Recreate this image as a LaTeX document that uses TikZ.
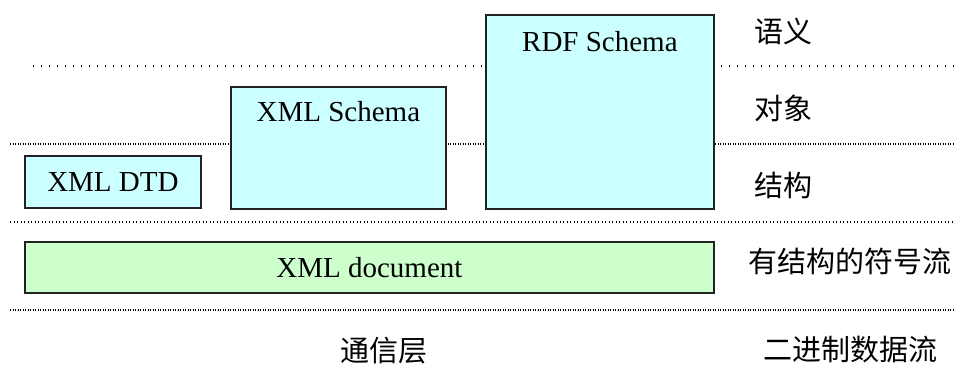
\documentclass[tikz,border=0pt]{standalone}
\usepackage{fontspec}
\setmainfont{Liberation Serif}
\newfontfamily\cjk{Noto Sans CJK SC}
\usetikzlibrary{positioning,calc}
\definecolor{schemafill}{HTML}{CCFFFF}
\definecolor{docfill}{HTML}{CCFFCC}
\definecolor{boxline}{HTML}{222222}

\begin{document}
\begin{tikzpicture}[x=1pt,y=-1pt,
  layerbox/.style={draw=boxline, line width=1.8pt, inner sep=0pt, anchor=north west, font=\fontsize{29}{31}\selectfont},
  xmlbox/.style={layerbox, fill=schemafill},
  docbox/.style={layerbox, fill=docfill},
  boxtext/.style={font=\fontsize{29}{31}\selectfont},
  layertext/.style={font=\cjk\fontsize{29}{31}\selectfont},
  sep/.style={line width=1.1pt, black}]

\useasboundingbox (0,0) rectangle (957,386);

% Layer separators
\draw[sep, dash pattern=on 1pt off 7pt] (33,66) -- (955,66);
\foreach \y in {144,310} {
    \draw[sep, dash pattern=on 1pt off 1.5pt] (10,\y) -- (955,\y);
}
\draw[sep, dash pattern=on 1pt off 2.5pt] (10,222) -- (955,222);

% Schema boxes
\node[xmlbox, minimum width=176, minimum height=52] (dtd) at (24,155) {XML DTD};
\node[xmlbox, minimum width=215, minimum height=122] (schema) at (230,86) {};
\node[xmlbox, minimum width=228, minimum height=194] (rdf) at (485,14) {};
\node[boxtext] (schemalabel) at ($(schema.north)+(0,26)$) {XML Schema};
\node[boxtext] (rdflabel) at ($(rdf.north)+(0,28)$) {RDF Schema};

% Document box
\node[docbox, minimum width=689, minimum height=51] (doc) at (24,241) {XML document};

% Layer names
\foreach \y/\name/\txt in {31/sem/语义, 108/obj/对象, 185/struct/结构} {
    \node[layertext] (\name) at (783,\y) {\txt};
}
\node[layertext] (symflow) at (850,261) {有结构的符号流};
\node[layertext] (binflow) at (850,350) {二进制数据流};
\node[layertext] (comm) at (384,351) {通信层};

\end{tikzpicture}
\end{document}
